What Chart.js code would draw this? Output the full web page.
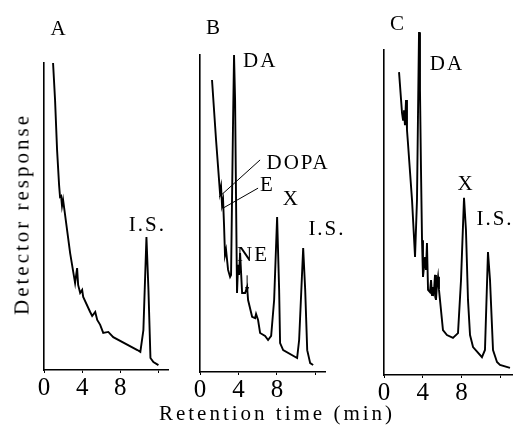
<!DOCTYPE html>
<html lang="en">
<head>
<meta charset="UTF-8">
<title>Chromatograms A, B, C</title>
<script src="https://cdn.jsdelivr.net/npm/chart.js"></script>
<style>
  body { margin: 0; background: #fff; }
  #wrap { position: relative; width: 513px; height: 429px; overflow: hidden; background: #fff; }
  canvas { position: absolute; top: 0; }
  .title { position: absolute; font-family: 'Liberation Serif', serif; font-size: 21px; color: #000;
           letter-spacing: 3px; white-space: nowrap; transform: translate(-50%, -50%); }
</style>
</head>
<body>
<div id="wrap">
  <canvas id="chartA" width="180" height="429" style="left:0px"></canvas>
  <canvas id="chartB" width="170" height="429" style="left:180px"></canvas>
  <canvas id="chartC" width="163" height="429" style="left:350px"></canvas>
  <div class="title" style="left:22px; top:214px; transform: translate(-50%, -50%) rotate(-90deg);">Detector response</div>
  <div class="title" style="left:277px; top:413px;">Retention time (min)</div>
</div>

<script>
// retention time (min) and detector response (0-100 = axis height)
const timeA = [0.95, 1.16, 1.37, 1.58, 1.68, 1.79, 1.89, 2.0, 2.21, 2.74, 3.26, 3.47, 3.58, 3.79, 4.0, 4.11,
  4.84, 5.05, 5.37, 5.58, 5.89, 6.21, 6.74, 7.26, 9.79, 10.1, 10.42, 10.74, 10.95, 11.16, 11.47, 12.0];
const respA = [100, 87.9, 71.7, 60.3, 56.4, 56.7, 53.4, 55.4, 50.5, 38.1, 28.3, 33.2, 27.7, 25.1, 26.1, 23.8,
  18.9, 17.6, 18.9, 16.3, 14.7, 12.1, 12.4, 10.7, 6.5, 5.9, 13.0, 43.3, 26.1, 3.9, 2.6, 1.6];

const timeB = [1.25, 1.67, 2.08, 2.19, 2.29, 2.4, 2.5, 2.6, 2.71, 2.92, 3.13, 3.23, 3.33, 3.44, 3.54, 3.65,
  3.75, 3.85, 3.96, 4.06, 4.17, 4.38, 4.69, 4.9, 5.0, 5.42, 5.73, 5.83, 6.04, 6.25, 6.77, 7.08, 7.4, 7.71,
  8.02, 8.23, 8.33, 8.65, 10.1, 10.31, 10.73, 10.94, 11.15, 11.46, 11.77];
const respB = [92.1, 73.2, 56.5, 58.4, 52.7, 54.3, 46.4, 36.9, 38.5, 32.2, 30.0, 30.6, 54.3, 79.5, 100, 85.8,
  54.3, 24.9, 33.8, 30.6, 37.5, 24.9, 24.9, 26.8, 22.7, 17.4, 17.0, 18.3, 16.4, 12.3, 11.4, 10.1, 11.4, 22.7,
  48.9, 25.9, 9.1, 6.9, 4.4, 10.1, 39.1, 25.9, 6.9, 2.8, 2.2];

const timeC = [1.55, 1.86, 1.96, 2.06, 2.16, 2.27, 2.37, 2.47, 2.89, 3.2, 3.4, 3.5, 3.61, 3.71, 3.81, 3.92,
  4.02, 4.23, 4.33, 4.43, 4.54, 4.74, 4.85, 4.95, 5.05, 5.15, 5.26, 5.36, 5.46, 5.57, 5.67, 6.08, 6.49, 7.11,
  7.63, 7.94, 8.25, 8.45, 8.66, 8.87, 9.18, 10.1, 10.41, 10.72, 10.93, 11.24, 11.65, 11.96, 12.99];
const respC = [93.2, 80.6, 78.5, 81.5, 76.9, 84.6, 75.4, 71.4, 53.8, 36.3, 53.8, 78.5, 105.5, 87.7, 64.0, 41.5,
  30.2, 36.3, 32.3, 40.6, 26.2, 25.5, 29.2, 24.6, 27.1, 25.5, 30.8, 23.1, 27.7, 30.2, 26.2, 13.8, 12.3, 11.4,
  12.9, 29.2, 54.5, 44.6, 23.1, 12.3, 8.6, 5.5, 7.7, 37.8, 29.2, 7.7, 4.0, 3.1, 2.2];

const tickValues = [0, 4, 8, 12];
const tickLabels = ['0', '4', '8', ''];

const serif = '"Liberation Serif", "DejaVu Serif", serif';
const ink = '#000';

// peak labels, leader lines and arrow, in data units of each panel
const notesA = {
  text: [['A', 1.47, 111], ['I.S.', 10.74, 47.2]]
};
const notesB = {
  text: [['B', 1.35, 108.5], ['DA', 6.15, 97.8], ['DOPA', 10.1, 65.9], ['E', 6.9, 58.7],
         ['X', 9.4, 54.3], ['I.S.', 13.1, 44.8], ['NE', 5.42, 36.9]],
  lines: [[6.25, 66.9, 1.98, 55.2], [6.04, 58, 2.4, 51.7]],
  arrows: [[4.9, 30.5, 4.9, 25.2]]
};
const notesC = {
  text: [['C', 1.34, 107.7], ['DA', 6.39, 95.4], ['X', 8.35, 58.5], ['I.S.', 11.34, 47.7]]
};

const notePlugin = notes => ({
  id: 'notes',
  afterDraw(chart) {
    const { ctx, scales: { x, y } } = chart;
    ctx.save();
    ctx.fillStyle = ink;
    ctx.strokeStyle = ink;
    ctx.lineWidth = 1;
    ctx.textAlign = 'center';
    ctx.textBaseline = 'middle';
    ctx.font = '21px ' + serif;
    ctx.letterSpacing = '2px';
    (notes.text || []).forEach(([t, vx, vy]) => {
      ctx.fillText(t, x.getPixelForValue(vx) + 1, y.getPixelForValue(vy));
    });
    (notes.lines || []).forEach(([x1, y1, x2, y2]) => {
      ctx.beginPath();
      ctx.moveTo(x.getPixelForValue(x1), y.getPixelForValue(y1));
      ctx.lineTo(x.getPixelForValue(x2), y.getPixelForValue(y2));
      ctx.stroke();
    });
    (notes.arrows || []).forEach(([x1, y1, x2, y2]) => {
      const px = x.getPixelForValue(x1), py1 = y.getPixelForValue(y1), py2 = y.getPixelForValue(y2);
      ctx.beginPath();
      ctx.moveTo(px, py1);
      ctx.lineTo(x.getPixelForValue(x2), py2);
      ctx.stroke();
      ctx.beginPath();
      ctx.moveTo(px - 2, py2 - 5);
      ctx.lineTo(px, py2);
      ctx.lineTo(px + 2, py2 - 5);
      ctx.closePath();
      ctx.fill();
    });
    ctx.restore();
  }
});

function panel(id, times, resp, xMax, pad, notes) {
  return new Chart(document.getElementById(id), {
    type: 'scatter',
    data: {
      datasets: [{
        data: times.map((t, i) => ({ x: t, y: resp[i] })),
        showLine: true,
        borderColor: ink,
        borderWidth: 1.9,
        pointRadius: 0,
        tension: 0,
        clip: false
      }]
    },
    options: {
      responsive: false,
      animation: false,
      events: [],
      layout: { padding: pad },
      plugins: { legend: { display: false }, tooltip: { enabled: false } },
      scales: {
        x: {
          type: 'linear', min: 0, max: xMax,
          afterBuildTicks: s => { s.ticks = tickValues.map(v => ({ value: v })); },
          afterFit: s => { s.height = 30; },
          ticks: {
            callback: (v, i) => tickLabels[i] ?? '',
            font: { family: serif, size: 25 },
            color: ink, padding: 0, maxRotation: 0, autoSkip: false
          },
          grid: { display: true, drawOnChartArea: false, tickLength: 3, color: ink, lineWidth: 1 },
          border: { display: true, color: ink, width: 1.6 }
        },
        y: {
          min: 0, max: 100,
          afterFit: s => { s.width = 0; },
          ticks: { display: false },
          grid: { display: false },
          border: { display: true, color: ink, width: 1.6 }
        }
      }
    },
    plugins: [notePlugin(notes)]
  });
}

panel('chartA', timeA, respA, 13, { left: 44, right: 12, top: 63, bottom: 29 }, notesA);
panel('chartB', timeB, respB, 13, { left: 20, right: 25, top: 55, bottom: 27 }, notesB);
panel('chartC', timeC, respC, 13.3, { left: 34, right: 0, top: 50, bottom: 24 }, notesC);
</script>
</body>
</html>
